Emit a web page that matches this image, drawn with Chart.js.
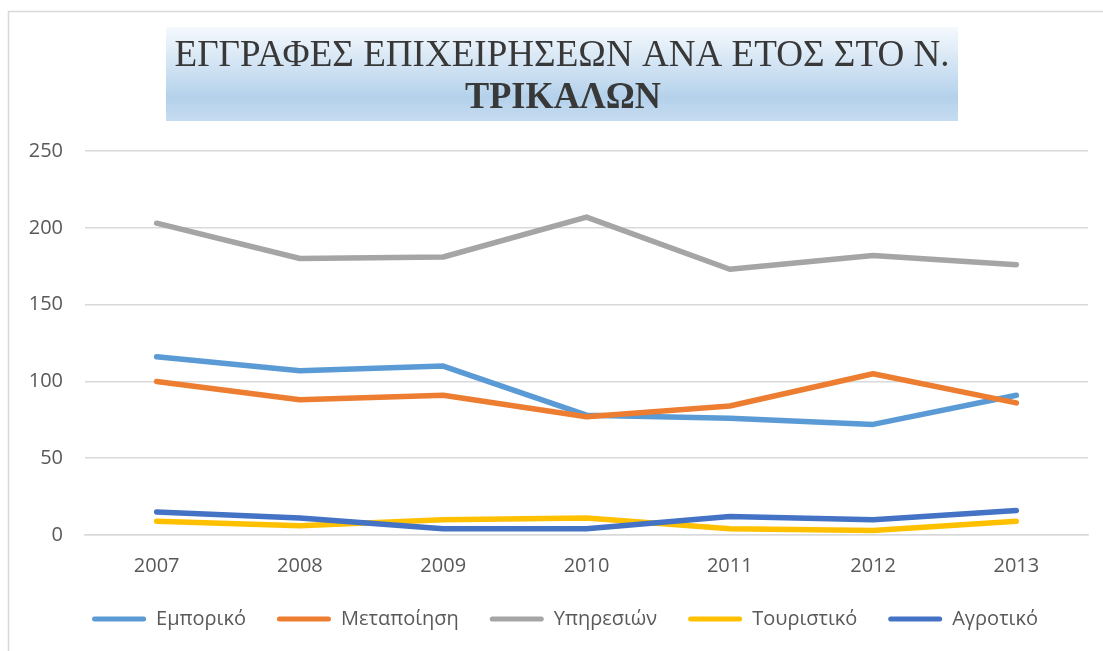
<!DOCTYPE html>
<html>
<head>
<meta charset="utf-8">
<script src="https://cdn.jsdelivr.net/npm/chart.js@4/dist/chart.umd.min.js"></script>
<style>
  html, body { margin: 0; padding: 0; background: #fff; }
  #wrap { width: 1103px; height: 651px; }
</style>
</head>
<body>
<div id="wrap"><canvas id="lineChart"></canvas></div>
<script>
// Δεδομένα
const years = ['2007', '2008', '2009', '2010', '2011', '2012', '2013'];
const emporiko = [116, 107, 110, 78, 76, 72, 91];
const metapoiisi = [100, 88, 91, 77, 84, 105, 86];
const ypiresion = [203, 180, 181, 207, 173, 182, 176];
const touristiko = [9, 6, 10, 11, 4, 3, 9];
const agrotiko = [15, 11, 4, 4, 12, 10, 16];

const seriesNames = ['Εμπορικό', 'Μεταποίηση', 'Υπηρεσιών', 'Τουριστικό', 'Αγροτικό'];
const seriesData = [emporiko, metapoiisi, ypiresion, touristiko, agrotiko];
const seriesColors = ['#5B9BD5', '#ED7D31', '#A5A5A5', '#FFC000', '#4472C4'];

const titleLine1 = 'ΕΓΓΡΑΦΕΣ ΕΠΙΧΕΙΡΗΣΕΩΝ ΑΝΑ ΕΤΟΣ ΣΤΟ Ν.';
const titleLine2 = 'ΤΡΙΚΑΛΩΝ';

const textColor = '#595959';
const gridColor = '#d9d9d9';

// Πλαίσιο και τίτλος με διαβάθμιση
const titleBox = {
    id: 'titleBox',
    beforeDraw(chart) {
        const ctx = chart.ctx;
        ctx.save();
        ctx.fillStyle = '#fff';
        ctx.fillRect(0, 0, chart.width, chart.height);
        ctx.strokeStyle = gridColor;
        ctx.lineWidth = 1.5;
        ctx.strokeRect(8.5, 11.5, chart.width + 20, chart.height + 20);

        const x0 = 166, y0 = 27, w = 792, h = 94;
        const grad = ctx.createLinearGradient(0, y0, 0, y0 + h);
        grad.addColorStop(0, '#f5f9fd');
        grad.addColorStop(0.75, '#b4d1eb');
        grad.addColorStop(1, '#c6dcf0');
        ctx.fillStyle = grad;
        ctx.fillRect(x0, y0, w, h);

        ctx.fillStyle = '#383838';
        ctx.textAlign = 'center';
        ctx.textBaseline = 'alphabetic';
        ctx.font = '38px "Liberation Serif", "DejaVu Serif", serif';
        const tw = ctx.measureText(titleLine1).width;
        ctx.save();
        ctx.translate(562, 66);
        ctx.scale(775 / tw, 1);
        ctx.fillText(titleLine1, 0, 0);
        ctx.restore();

        ctx.font = 'bold 38px "Liberation Serif", "DejaVu Serif", serif';
        const tw2 = ctx.measureText(titleLine2).width;
        ctx.save();
        ctx.translate(563, 108);
        ctx.scale(Math.min(1, 196 / tw2), 1);
        ctx.fillText(titleLine2, 0, 0);
        ctx.restore();
        ctx.restore();
    }
};

// Το υπόμνημα είναι λίγο μετατοπισμένο δεξιά στο πρωτότυπο
const legendShift = {
    id: 'legendShift',
    afterLayout(chart) {
        if (chart.legend) {
            chart.legend.left += 21;
            chart.legend.right += 21;
        }
    }
};

// Σειρές - η τελευταία σχεδιάζεται από πάνω (όπως στο Excel)
const datasets = seriesNames.map((name, i) => ({
    label: name,
    data: seriesData[i],
    borderColor: seriesColors[i],
    backgroundColor: seriesColors[i],
    borderWidth: 5.5,
    borderCapStyle: 'round',
    borderJoinStyle: 'round',
    pointRadius: 0,
    pointHoverRadius: 0,
    tension: 0,
    fill: false,
    order: seriesNames.length - i
}));

Chart.defaults.font.family = '"Open Sans", "Noto Sans", sans-serif';
Chart.defaults.font.size = 20;
Chart.defaults.color = textColor;

new Chart(document.getElementById('lineChart'), {
    type: 'line',
    data: { labels: years, datasets: datasets },
    plugins: [titleBox, legendShift],
    options: {
        responsive: true,
        maintainAspectRatio: false,
        animation: false,
        layout: {
            padding: { top: 151, left: 0, right: 15, bottom: 12 }
        },
        plugins: {
            title: { display: false },
            tooltip: { enabled: false },
            legend: {
                position: 'bottom',
                labels: {
                    boxWidth: 54,
                    boxHeight: 5,
                    padding: 31,
                    color: textColor,
                    useBorderRadius: true,
                    borderRadius: 2.5,
                    sort: (a, b) => a.datasetIndex - b.datasetIndex,
                    generateLabels: (chart) =>
                        Chart.defaults.plugins.legend.labels.generateLabels(chart)
                            .map(l => Object.assign(l, { lineWidth: 0 }))
                }
            }
        },
        scales: {
            x: {
                offset: true,
                afterFit: (scale) => { scale.height = 43; },
                grid: { display: false, drawTicks: false },
                border: { display: true, color: gridColor, width: 1.5 },
                ticks: { padding: 19, color: textColor }
            },
            y: {
                min: 0,
                max: 250,
                afterFit: (scale) => { scale.width = 85; },
                grid: { color: gridColor, lineWidth: 1.5, drawTicks: false },
                border: { display: false },
                ticks: { stepSize: 50, padding: 22, color: textColor }
            }
        }
    }
});
</script>
</body>
</html>
